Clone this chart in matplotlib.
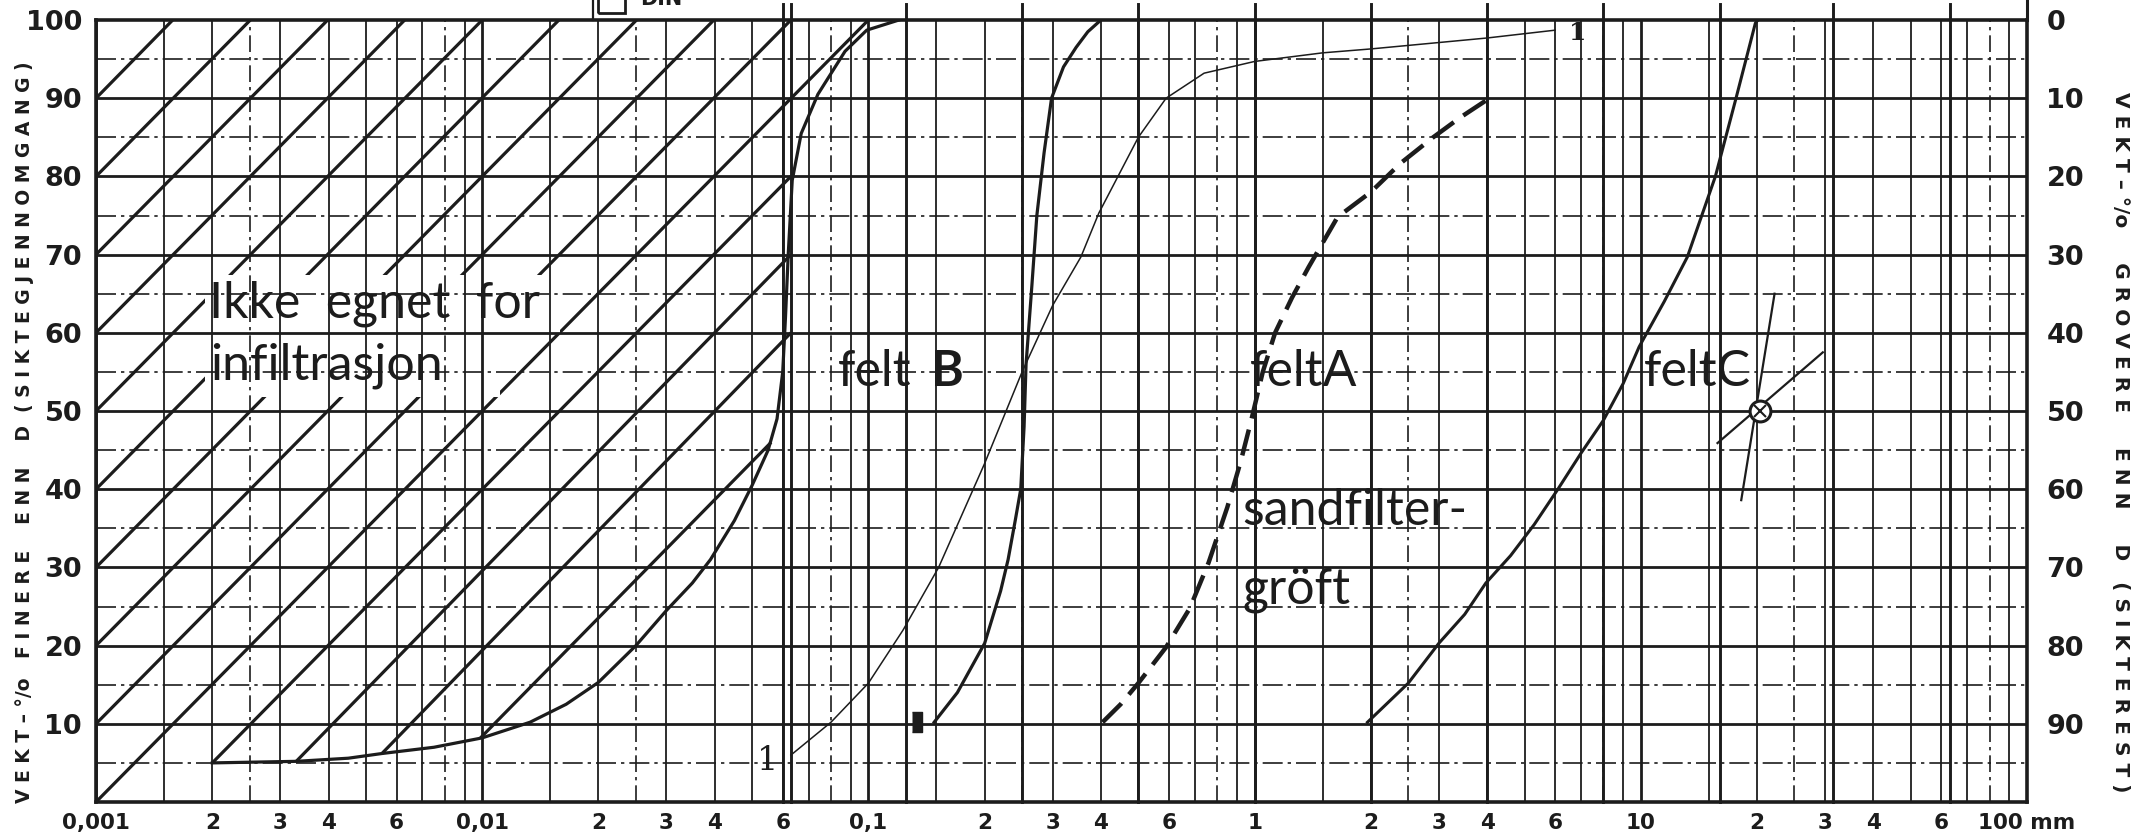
import matplotlib
matplotlib.use("Agg")
import matplotlib.pyplot as plt
from matplotlib.patches import Rectangle
from matplotlib.ticker import NullLocator, NullFormatter

# --- data (diameter mm, weight-% finer) ---
# lower border of the "not suitable" zone, continuing up as left felt B curve
border_d = [0.002, 0.0033, 0.0045, 0.0055, 0.0075, 0.01, 0.0133, 0.0165, 0.02, 0.025,
            0.03, 0.035, 0.039, 0.045, 0.05, 0.055, 0.058, 0.06, 0.061, 0.062,
            0.0635, 0.067, 0.074, 0.087, 0.099, 0.12]
border_p = [5.0, 5.2, 5.6, 6.2, 7.0, 8.2, 10.2, 12.5, 15.3, 20.0,
            24.5, 28.0, 31.0, 36.0, 40.5, 45.0, 49.0, 55.0, 62.0, 70.0,
            79.5, 85.5, 90.5, 96.0, 98.7, 100.0]

# hatch lines (start d, start %, end d, end %)
hatch_d0 = [0.001, 0.001, 0.001, 0.001, 0.001, 0.001, 0.001, 0.001, 0.001, 0.001,
            0.002, 0.0033, 0.0055, 0.0099]
hatch_p0 = [90, 80, 70, 60, 50, 40, 30, 20, 10, 0, 5.0, 5.2, 6.2, 8.2]
hatch_d1 = [0.00158, 0.00251, 0.00398, 0.0063, 0.01, 0.0158, 0.0251, 0.0398, 0.063, 0.1,
            0.063, 0.063, 0.063, 0.056]
hatch_p1 = [100, 100, 100, 100, 100, 100, 100, 100, 100, 100, 80, 70, 60, 46]

# curve "1" (thin)
c1_d = [0.063, 0.08, 0.1, 0.123, 0.152, 0.2, 0.25, 0.3, 0.355, 0.395, 0.5, 0.59,
        0.74, 1.0, 1.5, 2.0, 4.0, 6.0]
c1_p = [6.0, 10.2, 15.2, 22.0, 30.0, 43.3, 55.0, 63.5, 69.7, 75.3, 85.0, 90.0,
        93.2, 94.7, 95.8, 96.3, 97.7, 98.7]

# felt B, right curve
fb_d = [0.148, 0.17, 0.2, 0.22, 0.23, 0.24, 0.248, 0.253, 0.256, 0.265, 0.273,
        0.285, 0.298, 0.32, 0.345, 0.37, 0.4]
fb_p = [10.2, 14.0, 20.3, 27.0, 31.0, 36.0, 40.0, 48.0, 56.0, 66.0, 75.0,
        83.0, 90.0, 94.0, 96.5, 98.5, 100.0]
blob_d = [0.134]
blob_p = [10.2]

# sandfiltergroft (dashed)
sf_d = [0.404, 0.45, 0.5, 0.59, 0.68, 0.76, 0.85, 0.92, 0.98, 1.05, 1.13, 1.25,
        1.38, 1.64, 2.0, 2.39, 2.9, 3.4, 4.0]
sf_p = [10.2, 12.5, 15.2, 19.8, 24.8, 30.6, 37.7, 43.5, 48.8, 55.0, 60.0, 64.5,
        68.4, 74.8, 78.0, 81.7, 85.0, 87.5, 89.8]

# felt C
fc_d = [1.96, 2.5, 3.0, 3.5, 3.97, 4.6, 5.3, 6.1, 7.0, 8.0, 9.0, 9.9, 11.5, 13.2,
        15.6, 17.6, 19.8, 20.1]
fc_p = [10.2, 15.2, 20.3, 24.0, 28.0, 31.5, 35.5, 40.0, 44.6, 48.8, 53.5, 58.2,
        64.0, 69.7, 80.0, 89.8, 99.6, 100.0]

# d50 marker of felt C with its two guide strokes
d50_d = [20.3]
d50_p = [50.0]
guide1_d = [18.2, 22.2]
guide1_p = [38.6, 65.0]
guide2_d = [15.8, 29.6]
guide2_p = [45.9, 57.5]

# grid / axes
decades = [0.001, 0.01, 0.1, 1, 10]
solid_mant = [1.5, 2, 3, 4, 5, 6, 7, 9]
dash_mant = [2.5, 8]
din_sizes = [0.06, 0.063, 0.125, 0.25, 0.5, 1, 2, 4, 8, 16, 31.5, 63]
x_ticks = [0.001, 0.002, 0.003, 0.004, 0.006, 0.01, 0.02, 0.03, 0.04, 0.06,
           0.1, 0.2, 0.3, 0.4, 0.6, 1, 2, 3, 4, 6, 10, 20, 30, 40, 60, 100]
x_labels = ["0,001", "2", "3", "4", "6", "0,01", "2", "3", "4", "6",
            "0,1", "2", "3", "4", "6", "1", "2", "3", "4", "6",
            "10", "2", "3", "4", "6", "100 mm"]
left_ticks = [10, 20, 30, 40, 50, 60, 70, 80, 90, 100]
right_ticks = [0, 10, 20, 30, 40, 50, 60, 70, 80, 90]

ink = "#1c1c1c"
hand = ["Lato", "DejaVu Sans"]
W, H = 2149, 834

fig = plt.figure(figsize=(W / 100, H / 100), dpi=100)
ax = fig.add_axes([96 / W, 32 / H, (2027 - 96) / W, 782 / H])
ax.set_xscale("log")
ax.set_xlim(0.001, 100)
ax.set_ylim(0, 100)

# vertical grid
for dec in decades:
    ax.axvline(dec, color=ink, lw=2.0, zorder=3)
    for m in solid_mant:
        ax.axvline(dec * m, color=ink, lw=1.3, zorder=3)
    for m in dash_mant:
        ax.axvline(dec * m, color=ink, lw=1.2, ls=(0, (10, 3, 2, 3)), zorder=3)
for s in din_sizes:
    ax.axvline(s, ymin=0, ymax=1.02, color=ink, lw=2.1, zorder=3, clip_on=False)

# horizontal grid
for p in range(10, 100, 10):
    ax.axhline(p, color=ink, lw=2.0, zorder=3)
for p in range(5, 100, 10):
    ax.axhline(p, color=ink, lw=1.2, ls=(0, (12, 3, 2, 3)), zorder=3)

# hatching of the unsuitable zone
for d0, p0, d1, p1 in zip(hatch_d0, hatch_p0, hatch_d1, hatch_p1):
    ax.plot([d0, d1], [p0, p1], color=ink, lw=2.3, zorder=2, solid_capstyle="butt")
# blank area behind the zone text (hatch removed, grid kept)
ax.add_patch(Rectangle((0.00191, 60), 0.0159 - 0.00191, 7.4, fc="white", ec="none", zorder=2.5))
ax.add_patch(Rectangle((0.00191, 51.8), 0.01114 - 0.00191, 8.2, fc="white", ec="none", zorder=2.5))

# curves
ax.plot(border_d, border_p, color=ink, lw=2.3, zorder=4)
ax.plot(c1_d, c1_p, color=ink, lw=1.1, zorder=4)
ax.plot(fb_d, fb_p, color=ink, lw=2.3, zorder=4)
ax.plot(blob_d, blob_p, ls="none", marker=[(-0.5, -1), (0.5, -1), (0.5, 1), (-0.5, 1)],
        ms=15, color=ink, zorder=4)
ax.plot(sf_d, sf_p, color=ink, lw=3.2, ls=(0, (6, 2.6)), zorder=4)
ax.plot(fc_d, fc_p, color=ink, lw=2.2, zorder=4)
ax.plot(guide1_d, guide1_p, color=ink, lw=1.6, zorder=4)
ax.plot(guide2_d, guide2_p, color=ink, lw=1.6, zorder=4)
ax.plot(d50_d, d50_p, ls="none", marker="o", ms=15, mfc="white", mec=ink, mew=2.2, zorder=5)
ax.plot(d50_d, d50_p, ls="none", marker="x", ms=9, mec=ink, mew=1.5, zorder=6)

# hand lettering
tkw = dict(color=ink, fontsize=36, family=hand, fontweight="normal", zorder=6)
ax.text(0.00196, 61.9, "Ikke  egnet  for", **tkw)
ax.text(0.00198, 54.0, "infiltrasjon", **tkw)
ax.text(0.0835, 53.2, "felt", **tkw)
ax.text(0.145, 53.2, "B", color=ink, fontsize=36, family=hand, fontweight="bold", zorder=6)
ax.text(0.975, 53.2, "feltA", **tkw)
ax.text(0.93, 35.4, "sandfilter-", **tkw)
ax.text(0.93, 25.4, "gröft", **tkw)
ax.text(10.2, 53.2, "feltC", **tkw)
ax.text(0.0585, 5.2, "1", color=ink, fontsize=24, family="DejaVu Serif", ha="right",
        va="center", zorder=6)
ax.text(6.5, 98.4, "1", color=ink, fontsize=18, family="DejaVu Serif", fontweight="bold",
        ha="left", va="center", zorder=6)

# axes text
for sp in ax.spines.values():
    sp.set_linewidth(2.6)
    sp.set_color(ink)
    sp.set_zorder(7)
ax.xaxis.set_minor_locator(NullLocator())
ax.xaxis.set_minor_formatter(NullFormatter())
ax.set_xticks(x_ticks)
ax.set_xticklabels(x_labels)
ax.set_yticks(left_ticks)
ax.set_yticklabels([str(v) for v in left_ticks])
ax.tick_params(which="both", length=0, colors=ink)
ax.tick_params(axis="x", pad=8, labelsize=15.5)
ax.tick_params(axis="y", pad=10, labelsize=19.5)
for lab in ax.get_xticklabels() + ax.get_yticklabels():
    lab.set_fontweight("bold")

ax2 = ax.twinx()
ax2.set_ylim(100, 0)
ax2.set_yticks(right_ticks)
ax2.set_yticklabels([str(v) for v in right_ticks], fontweight="bold")
ax2.tick_params(length=0, pad=14, labelsize=19.5, colors=ink)
for sp in ax2.spines.values():
    sp.set_visible(False)

fig.text(25 / W, 1 - 432 / H, "V E K T – °/o   F I N E R E    E N N    D  ( S I K T E G J E N N O M G A N G )",
         rotation=90, ha="center", va="center", fontsize=13.5, fontweight="bold", color=ink)
fig.text(2121 / W, 1 - 442 / H, "V E K T – °/o     G R O V E R E     E N N     D   ( S I K T E R E S T )",
         rotation=-90, ha="center", va="center", fontsize=14.5, fontweight="bold", color=ink)

# cut-off header above the grid
fig.add_artist(Rectangle((598 / W, 1 - 13 / H), 27 / W, 20 / H, transform=fig.transFigure,
                         fill=False, ec=ink, lw=2.0))
fig.add_artist(plt.Line2D([593 / W, 593 / W], [1 - 20 / H, 1.0], transform=fig.transFigure,
                          color=ink, lw=1.6))
fig.add_artist(plt.Line2D([2027 / W, 2027 / W], [1 - 20 / H, 1.0], transform=fig.transFigure,
                          color=ink, lw=2.2))
fig.text(640 / W, 1 - 9 / H, "DIN", fontsize=15, fontweight="bold", color=ink, va="bottom")

fig.savefig("out.png", dpi=100, facecolor="white")
